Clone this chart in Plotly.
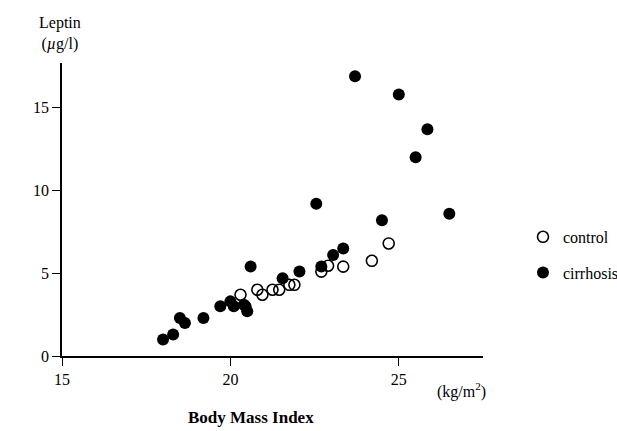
import plotly.graph_objects as go

# Body Mass Index (kg/m2) and Leptin (ug/l)
control_bmi = [20.3, 20.8, 20.95, 21.25, 21.45, 21.75, 21.9, 22.7, 22.9, 23.35, 24.2, 24.7]
control_leptin = [3.7, 4.0, 3.7, 4.0, 4.0, 4.3, 4.3, 5.1, 5.45, 5.4, 5.75, 6.8]

cirrhosis_bmi = [18.0, 18.3, 18.5, 18.65, 19.2, 19.7, 20.0, 20.1, 20.4, 20.5, 20.45,
                 20.6, 21.55, 22.05, 22.55, 22.7, 23.05, 23.35, 23.7, 24.5, 25.0, 25.5, 25.85, 26.5]
cirrhosis_leptin = [1.0, 1.3, 2.3, 2.0, 2.3, 3.0, 3.3, 3.0, 3.1, 2.7, 3.0,
                    5.4, 4.7, 5.1, 9.2, 5.4, 6.1, 6.5, 16.9, 8.2, 15.8, 12.0, 13.7, 8.6]

x_ticks = [15, 20, 25]
y_ticks = [0, 5, 10, 15]

FONT = "Liberation Serif"

fig = go.Figure()
fig.add_trace(go.Scatter(
    x=control_bmi, y=control_leptin, mode="markers", name="control",
    legendgroup="a",
    marker=dict(symbol="circle-open", size=11, color="black", line=dict(width=1.6, color="black")),
))
fig.add_trace(go.Scatter(
    x=cirrhosis_bmi, y=cirrhosis_leptin, mode="markers", name="cirrhosis",
    legendgroup="b",
    marker=dict(symbol="circle", size=12, color="black", line=dict(width=0)),
))

fig.update_layout(
    width=617, height=431,
    margin=dict(l=62, r=134, t=63, b=75, autoexpand=False),
    paper_bgcolor="white", plot_bgcolor="white",
    font=dict(family=FONT, size=16, color="black"),
    showlegend=True,
    legend=dict(x=1.095, y=0.345, xanchor="left", yanchor="middle",
                font=dict(family=FONT, size=16, color="black"),
                tracegroupgap=12, itemwidth=30, bgcolor="rgba(0,0,0,0)"),
    xaxis=dict(range=[15, 27.5], tickvals=x_ticks, showline=True, linecolor="black", linewidth=1.5,
               ticks="outside", ticklen=8, tickwidth=1.2, tickcolor="black", showgrid=False,
               zeroline=False, tickfont=dict(family=FONT, size=16)),
    yaxis=dict(range=[0, 17.7], tickvals=y_ticks, showline=True, linecolor="black", linewidth=1.5,
               ticks="outside", ticklen=8, tickwidth=1.2, tickcolor="black", showgrid=False,
               zeroline=False, tickfont=dict(family=FONT, size=16)),
    annotations=[
        dict(text="Leptin<br>(<i>\u00b5</i>g/l)", xref="paper", yref="paper", x=-0.005, y=1.0,
             yshift=8, xanchor="center", yanchor="bottom", showarrow=False,
             font=dict(family=FONT, size=16)),
        dict(text="(kg/m<sup>2</sup>)", xref="paper", yref="paper", x=0.885, y=0, yshift=-22,
             xanchor="left", yanchor="top", showarrow=False, font=dict(family=FONT, size=16)),
        dict(text="<b>Body Mass Index</b>", xref="paper", yref="paper", x=0.45, y=0, yshift=-50,
             xanchor="center", yanchor="top", showarrow=False, font=dict(family=FONT, size=17)),
    ],
)

fig.write_html("out.html")
